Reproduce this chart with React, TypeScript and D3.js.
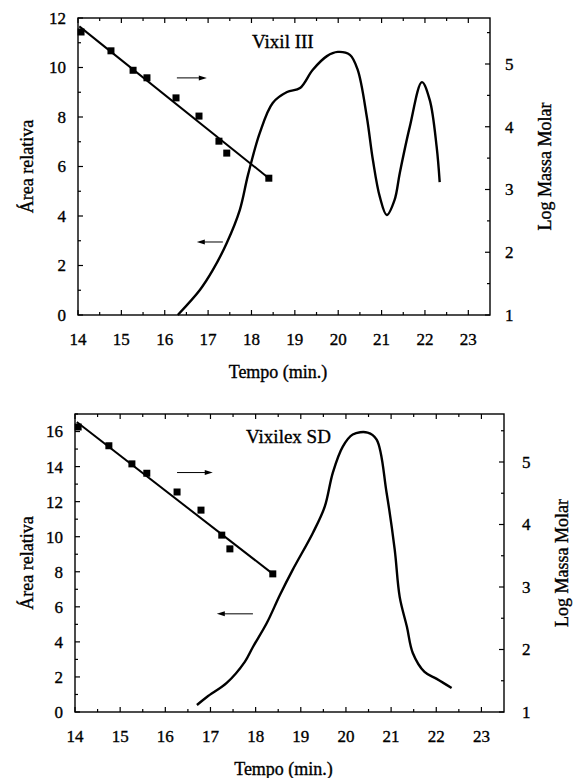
import React from 'react';
import * as d3 from 'd3';

// shared axis values
const timeTicks = [14, 15, 16, 17, 18, 19, 20, 21, 22, 23];
const timeMinor = [14.5, 15.5, 16.5, 17.5, 18.5, 19.5, 20.5, 21.5, 22.5];
const logTicks = [1, 2, 3, 4, 5];
const logMinor = [1.5, 2.5, 3.5, 4.5, 5.5];

// Vixil III
const vixilAreaTicks = [0, 2, 4, 6, 8, 10, 12];
const vixilAreaMinor = [1, 3, 5, 7, 9, 11];
const vixilTime = [16.3, 16.81, 17.11, 17.43, 17.73, 17.92, 18.19, 18.49, 18.82, 19.12, 19.41, 19.74, 19.99, 20.27, 20.45, 20.66, 20.8, 20.96, 21.12, 21.3, 21.42, 21.65, 21.93, 22.11, 22.27, 22.34];
const vixilArea = [0, 1.01, 1.82, 2.91, 4.24, 5.66, 7.35, 8.57, 9.01, 9.17, 9.9, 10.46, 10.63, 10.51, 9.9, 8.0, 6.26, 4.77, 4.04, 4.65, 5.74, 7.6, 9.41, 8.69, 6.79, 5.37];
const vixilCalTime = [14.07, 14.76, 15.27, 15.59, 16.26, 16.79, 17.25, 17.43, 18.4];
const vixilCalLogM = [5.51, 5.21, 4.9, 4.78, 4.46, 4.17, 3.77, 3.58, 3.18];
const vixilFitTime = [14.03, 18.4];
const vixilFitLogM = [5.6, 3.18];

// Vixilex SD
const vixilexAreaTicks = [0, 2, 4, 6, 8, 10, 12, 14, 16];
const vixilexAreaMinor = [1, 3, 5, 7, 9, 11, 13, 15, 17];
const vixilexTime = [16.7, 16.92, 17.36, 17.76, 17.94, 18.25, 18.54, 18.82, 19.27, 19.53, 19.71, 19.93, 20.15, 20.48, 20.68, 20.9, 21.08, 21.19, 21.35, 21.48, 21.74, 22.01, 22.34];
const vixilexArea = [0.4, 0.86, 1.66, 2.86, 3.71, 5.09, 6.69, 8.11, 10.23, 11.71, 13.66, 15.14, 15.83, 15.94, 15.54, 12.51, 9.26, 6.57, 4.86, 3.37, 2.29, 1.89, 1.37];
const vixilexCalTime = [14.07, 14.75, 15.26, 15.59, 16.26, 16.79, 17.25, 17.43, 18.38];
const vixilexCalLogM = [5.56, 5.26, 4.97, 4.82, 4.52, 4.23, 3.83, 3.61, 3.21];
const vixilexFitTime = [14.04, 18.38];
const vixilexFitLogM = [5.64, 3.21];

// arrows: [t0, t1, area]
const vixilArrowRight = [16.28, 16.97, 9.58];
const vixilArrowLeft = [17.34, 16.74, 2.95];
const vixilexArrowRight = [16.26, 17.05, 13.66];
const vixilexArrowLeft = [17.94, 17.14, 5.6];

const FONT = '"Liberation Serif", "Times New Roman", serif';

interface PanelProps {
  title: string;
  layout: { left: number; right: number; top: number; bottom: number; rightLabel: number; rightTitle: number; titleX: number; titleY: number; xTitleY: number };
  areaMax: number;
  logMax: number;
  areaTicks: number[];
  areaMinor: number[];
  time: number[];
  area: number[];
  calTime: number[];
  calLogM: number[];
  fitTime: number[];
  fitLogM: number[];
  arrows: number[][];
}

function Panel(p: PanelProps) {
  const { left, right, top, bottom } = p.layout;
  const x = d3.scaleLinear().domain([14, 23.5]).range([left, right]);
  const yA = d3.scaleLinear().domain([0, p.areaMax]).range([bottom, top]);
  const yL = d3.scaleLinear().domain([1, p.logMax]).range([bottom, top]);

  const curve = d3
    .line<number>()
    .x((_, i) => x(p.time[i]))
    .y(d => yA(d))
    .curve(d3.curveCatmullRom.alpha(0.5))(p.area) as string;

  const fit = d3
    .line<number>()
    .x((_, i) => x(p.fitTime[i]))
    .y(d => yL(d))(p.fitLogM) as string;

  const midY = (top + bottom) / 2;
  const sq = 7;

  return (
    <g fontFamily={FONT} fill="#000">
      {/* frame */}
      <rect x={left} y={top} width={right - left} height={bottom - top} fill="none" stroke="#000" strokeWidth={1.4} />

      {/* texts get a thin stroke, the scan is heavy */}
      <g stroke="#000" strokeWidth={0.35}>
        {timeTicks.map(t => (
          <text key={'tl' + t} x={x(t)} y={bottom + 30} textAnchor="middle" fontSize={17}>{t}</text>
        ))}
        {p.areaTicks.map(v => (
          <text key={'al' + v} x={left - 12} y={yA(v)} dy="0.35em" textAnchor="end" fontSize={17}>{v}</text>
        ))}
        {logTicks.map(v => (
          <text key={'ll' + v} x={right + p.layout.rightLabel} y={yL(v)} dy="0.35em" textAnchor="start" fontSize={17}>{v}</text>
        ))}
        <text transform={`translate(27,${midY}) rotate(-90)`} textAnchor="middle" dy="0.35em" fontSize={18}>Área relativa</text>
        <text transform={`translate(${p.layout.rightTitle},${midY}) rotate(-90)`} textAnchor="middle" dy="0.35em" fontSize={18}>Log Massa Molar</text>
        <text x={(left + right) / 2 - 6} y={p.layout.xTitleY} textAnchor="middle" fontSize={18}>Tempo (min.)</text>
        <text x={p.layout.titleX} y={p.layout.titleY} fontSize={19}>{p.title}</text>
      </g>

      {/* time ticks bottom + top */}
      {timeTicks.map(t => (
        <g key={'t' + t}>
          <line x1={x(t)} x2={x(t)} y1={bottom} y2={bottom - 5} stroke="#000" strokeWidth={1.2} />
          <line x1={x(t)} x2={x(t)} y1={top} y2={top + 5} stroke="#000" strokeWidth={1.2} />
        </g>
      ))}
      {timeMinor.map(t => (
        <g key={'tm' + t}>
          <line x1={x(t)} x2={x(t)} y1={bottom} y2={bottom - 3} stroke="#000" strokeWidth={1.2} />
          <line x1={x(t)} x2={x(t)} y1={top} y2={top + 3} stroke="#000" strokeWidth={1.2} />
        </g>
      ))}

      {/* left area axis */}
      {p.areaTicks.map(v => (
        <line key={'a' + v} x1={left} x2={left + 5} y1={yA(v)} y2={yA(v)} stroke="#000" strokeWidth={1.2} />
      ))}
      {p.areaMinor.map(v => (
        <line key={'am' + v} x1={left} x2={left + 3} y1={yA(v)} y2={yA(v)} stroke="#000" strokeWidth={1.2} />
      ))}

      {/* right log axis */}
      {logTicks.map(v => (
        <line key={'l' + v} x1={right} x2={right - 5} y1={yL(v)} y2={yL(v)} stroke="#000" strokeWidth={1.2} />
      ))}
      {logMinor.map(v => (
        <line key={'lm' + v} x1={right} x2={right - 3} y1={yL(v)} y2={yL(v)} stroke="#000" strokeWidth={1.2} />
      ))}

      {/* chromatogram */}
      <path d={curve} fill="none" stroke="#000" strokeWidth={2.4} strokeLinejoin="round" />

      {/* calibration fit and points */}
      <path d={fit} fill="none" stroke="#000" strokeWidth={2} />
      {p.calLogM.map((v, i) => (
        <rect key={'c' + i} x={x(p.calTime[i]) - sq / 2} y={yL(v) - sq / 2} width={sq} height={sq} fill="#000" />
      ))}

      {/* arrows */}
      {p.arrows.map((a, i) => {
        const x0 = x(a[0]);
        const x1 = x(a[1]);
        const y = yA(a[2]);
        const dir = Math.sign(x1 - x0);
        return (
          <g key={'ar' + i}>
            <line x1={x0} x2={x1 - dir * 6} y1={y} y2={y} stroke="#000" strokeWidth={1} />
            <path d={`M${x1},${y} L${x1 - dir * 8},${y - 2.5} L${x1 - dir * 8},${y + 2.5} Z`} fill="#000" />
          </g>
        );
      })}
    </g>
  );
}

export default function App() {
  return (
    <svg width={573} height={778} style={{ position: 'absolute', left: 0, top: 0, background: '#fff' }}>
      <rect width={573} height={778} fill="#fff" />
      <Panel
        title="Vixil III"
        layout={{ left: 78, right: 490, top: 18, bottom: 315, rightLabel: 15, rightTitle: 545, titleX: 252, titleY: 48, xTitleY: 378 }}
        areaMax={12}
        logMax={5.733}
        areaTicks={vixilAreaTicks}
        areaMinor={vixilAreaMinor}
        time={vixilTime}
        area={vixilArea}
        calTime={vixilCalTime}
        calLogM={vixilCalLogM}
        fitTime={vixilFitTime}
        fitLogM={vixilFitLogM}
        arrows={[vixilArrowRight, vixilArrowLeft]}
      />
      <Panel
        title="Vixilex SD"
        layout={{ left: 75, right: 504, top: 414, bottom: 712, rightLabel: 18, rightTitle: 562, titleX: 246, titleY: 443, xTitleY: 775 }}
        areaMax={17}
        logMax={5.768}
        areaTicks={vixilexAreaTicks}
        areaMinor={vixilexAreaMinor}
        time={vixilexTime}
        area={vixilexArea}
        calTime={vixilexCalTime}
        calLogM={vixilexCalLogM}
        fitTime={vixilexFitTime}
        fitLogM={vixilexFitLogM}
        arrows={[vixilexArrowRight, vixilexArrowLeft]}
      />
    </svg>
  );
}
